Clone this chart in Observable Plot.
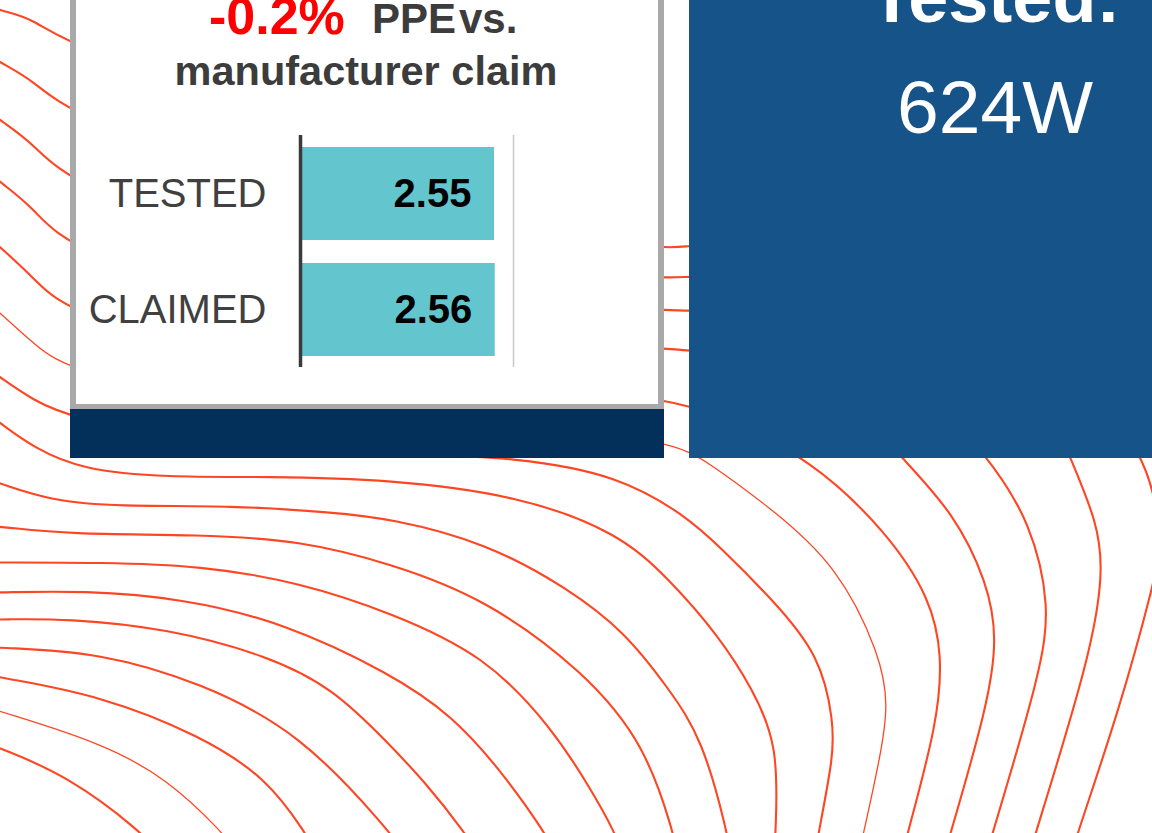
<!DOCTYPE html>
<html>
<head>
<meta charset="utf-8">
<script src="https://cdn.jsdelivr.net/npm/d3@7"></script>
<script src="https://cdn.jsdelivr.net/npm/@observablehq/plot@0.6"></script>
<style>
  html, body { margin: 0; padding: 0; background: #fff; }
  #page { position: relative; width: 1152px; height: 833px; overflow: hidden; background: #fff; }
  .abs { position: absolute; }
  #panel { left: 70px; top: -60px; width: 594px; height: 470px; box-sizing: border-box;
           border: 6px solid #a9a9a9; background: #fff; }
  #navy { left: 70px; top: 409px; width: 594px; height: 49px; background: #02305a; }
  #bluebox { left: 689px; top: 0px; width: 463px; height: 458px; background: #165389; }
  #bars { left: 75px; top: 120px; }
  #overlay { left: 0; top: 0; }
</style>
</head>
<body>
<div id="page">
  <div id="contours" class="abs" style="left:0;top:0"></div>
  <div id="panel" class="abs"></div>
  <div id="navy" class="abs"></div>
  <div id="bluebox" class="abs"></div>
  <div id="bars" class="abs"></div>
  <svg id="overlay" class="abs" width="1152" height="833">
    <g font-family="'Liberation Sans',Arial,sans-serif" font-weight="bold" fill="#3c3c3c">
      <text x="209" y="34" font-size="52" fill="#ff0000">-0.2%</text>
      <text x="372" y="33" font-size="42">PPE</text>
      <text x="459" y="33" font-size="42">vs.</text>
      <text x="366" y="85" font-size="41.5" text-anchor="middle">manufacturer claim</text>
    </g>
    <g font-family="'Liberation Sans',Arial,sans-serif" fill="#ffffff" text-anchor="middle">
      <text x="995" y="22" font-size="72" font-weight="bold">Tested:</text>
      <text x="995" y="133" font-size="75">624W</text>
    </g>
  </svg>
</div>
<script>
// ---- bar chart data ----
const categories = ["TESTED", "CLAIMED"];
const values = [2.55, 2.56];
const xMax = 2.8;

// ---- decorative contour lines ----
const lineA = [[-10,744],[0,748],[67,775],[143,833],[153,848]];
const lineB = [[-10,708],[0,711],[100,742],[167,778],[223,833],[235,850]];
const lineC = [[-10,675],[0,677],[100,695],[200,735],[267,778],[305,833],[315,850]];
const lineD = [[-10,647],[0,647],[100,652],[200,682],[300,732],[390,832],[402,850]];
const lineE = [[-10,619],[0,619],[67,618],[167,628],[267,655],[333,688],[388,743],[425,782],[465,833],[475,850]];
const lineF = [[-10,592],[0,592],[83,590],[183,598],[283,622],[390,673],[452,715],[502,772],[545,833],[553,850]];
const lineG = [[-10,562],[0,562],[100,562],[200,565],[300,582],[390,612],[485,655],[552,728],[590,788],[615,833],[620,850]];
const lineH = [[-10,526],[0,526],[67,534],[200,534],[300,540],[390,563],[485,598],[585,672],[645,745],[673,833],[676,850]];
const lineI = [[-10,480],[0,483],[50,500],[117,506],[233,505],[333,512],[390,518],[485,542],[568,588],[625,632],[668,688],[702,738],[727,833],[729,850]];
const lineJ = [[-10,415],[0,423],[33,447],[80,469],[167,477],[267,476],[390,479],[518,495],[618,532],[668,578],[718,635],[752,688],[778,745],[775,833],[774,850]];
const lineK = [[-10,370],[0,377],[33,400],[70,417],[200,445],[400,453],[518,457],[618,475],[685,515],[720,547],[770,597],[820,655],[833,722],[833,755],[818,833],[815,850]];
const lineT = [[-10,304],[0,313],[33,343],[70,373],[300,420],[600,436],[664,442],[689,452],[702,458],[770,507],[837,565],[880,655],[888,705],[880,755],[863,833],[859,850]];
const lineU = [[-10,238],[0,247],[33,277],[70,317],[300,370],[600,390],[663,400],[689,406],[720,415],[810,458],[887,532],[930,598],[942,655],[937,722],[907,833],[903,850]];
const lineV = [[-10,173],[0,182],[33,207],[70,253],[300,320],[600,344],[663,348],[689,350],[720,353],[850,400],[902,458],[953,512],[987,582],[997,638],[987,705],[950,833],[945,850]];
const lineW = [[-10,112],[0,120],[33,143],[70,185],[300,270],[600,305],[663,310],[689,310],[720,311],[900,360],[990,458],[1030,522],[1050,605],[1040,672],[992,833],[987,850]];
const lineX = [[-10,56],[0,62],[33,80],[70,115],[300,200],[600,272],[663,278],[689,276],[720,276],[950,330],[1050,410],[1070,458],[1097,522],[1103,572],[1090,655],[1035,833],[1030,850]];
const lineY = [[-10,6],[0,10],[33,18],[70,47],[300,120],[600,235],[663,249],[689,245],[720,244],[950,290],[1100,390],[1142,458],[1152,488],[1162,540],[1152,588],[1120,705],[1077,833],[1072,850]];

const contourLines = {lineA, lineB, lineC, lineD, lineE, lineF, lineG, lineH, lineI, lineJ, lineK, lineT, lineU, lineV, lineW, lineX, lineY};
const contourRows = [];
for (const [id, pts] of Object.entries(contourLines)) {
  for (const [x, y] of pts) contourRows.push({id, x, y});
}
const thinIds = new Set(["lineB", "lineT"]);

const contourPlot = Plot.plot({
  width: 1152, height: 833, margin: 0,
  x: {domain: [0, 1152], axis: null},
  y: {domain: [0, 833], reverse: true, axis: null},
  style: {background: "transparent", overflow: "visible"},
  marks: [
    Plot.line(contourRows.filter(d => !thinIds.has(d.id)), {x: "x", y: "y", z: "id", stroke: "#ff4623", strokeWidth: 2.1, curve: "basis"}),
    Plot.line(contourRows.filter(d => thinIds.has(d.id)), {x: "x", y: "y", z: "id", stroke: "#ff4623", strokeWidth: 1.3, curve: "basis"})
  ]
});
document.getElementById("contours").appendChild(contourPlot);

// ---- bar chart ----
const barData = categories.map((c, i) => ({category: c, value: values[i]}));
const barPlot = Plot.plot({
  width: 445, height: 260,
  marginLeft: 225, marginRight: 7, marginTop: 15, marginBottom: 13,
  x: {domain: [0, xMax], axis: null},
  y: {domain: categories, paddingInner: 0.2, paddingOuter: 0.1, label: null},
  style: {background: "transparent", fontFamily: "'Liberation Sans',Arial,sans-serif", overflow: "visible"},
  marks: [
    Plot.barX(barData, {x: "value", y: "category", fill: "#63c5cd"}),
    Plot.ruleX([0], {stroke: "#3a3a3a", strokeWidth: 3.5}),
    Plot.ruleX([xMax], {stroke: "#c8c8c8", strokeWidth: 1.5}),
    Plot.text(barData, {x: "value", y: "category", text: d => d.value.toFixed(2), textAnchor: "end", dx: -23, fontSize: 40, fontWeight: "bold", fill: "#000"}),
    Plot.axisY({tickSize: 0, tickPadding: 34, fontSize: 40, fill: "#404040", label: null})
  ]
});
document.getElementById("bars").appendChild(barPlot);
</script>
</body>
</html>
